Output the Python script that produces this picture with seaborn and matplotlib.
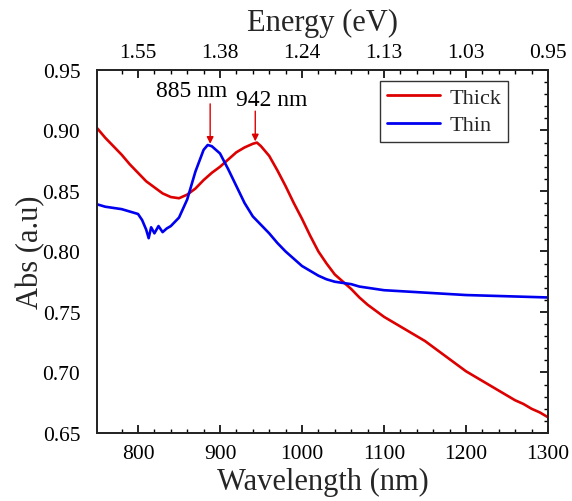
import matplotlib
matplotlib.use("Agg")
import matplotlib.pyplot as plt
import seaborn as sns
import pandas as pd
from matplotlib.ticker import FixedLocator, FormatStrFormatter, MultipleLocator

# ---- data ----
wl_thick = [750, 760, 770, 780, 790, 800, 810, 820, 830, 840, 850, 860, 870, 880, 890,
            900, 910, 920, 930, 940, 945, 950, 960, 970, 980, 990, 1000, 1010, 1020, 1030,
            1040, 1050, 1060, 1070, 1080, 1090, 1100, 1110, 1120, 1130, 1140, 1150, 1160,
            1170, 1180, 1190, 1200, 1210, 1220, 1230, 1240, 1250, 1260, 1270, 1280, 1290, 1300]
abs_thick = [0.902, 0.894, 0.887, 0.880, 0.872, 0.865, 0.858, 0.853, 0.848, 0.845, 0.844, 0.847,
             0.852, 0.859, 0.865, 0.870, 0.876, 0.882, 0.886, 0.889, 0.890, 0.887, 0.879, 0.867,
             0.854, 0.840, 0.827, 0.813, 0.800, 0.790, 0.781, 0.775, 0.769, 0.762, 0.756, 0.751,
             0.746, 0.742, 0.738, 0.734, 0.730, 0.726, 0.721, 0.716, 0.711, 0.706, 0.701, 0.697,
             0.693, 0.689, 0.685, 0.681, 0.677, 0.674, 0.670, 0.667, 0.663]

wl_thin = [750, 760, 770, 780, 790, 800, 805, 810, 813, 816, 820, 825, 830, 835, 840, 850,
           860, 870, 880, 885, 890, 900, 910, 920, 930, 940, 950, 960, 970, 980, 990, 1000,
           1010, 1020, 1030, 1040, 1050, 1060, 1070, 1080, 1090, 1100, 1150, 1200, 1250, 1300]
abs_thin = [0.839, 0.837, 0.836, 0.835, 0.833, 0.831, 0.826, 0.818, 0.811, 0.820, 0.815, 0.821,
            0.816, 0.819, 0.821, 0.828, 0.843, 0.866, 0.884, 0.888, 0.887, 0.881, 0.868, 0.854,
            0.840, 0.829, 0.822, 0.815, 0.807, 0.800, 0.794, 0.788, 0.784, 0.780, 0.777, 0.775,
            0.774, 0.773, 0.771, 0.770, 0.769, 0.768, 0.766, 0.764, 0.763, 0.762]

series_names = ["Thick", "Thin"]
x_ticks = [800, 900, 1000, 1100, 1200, 1300]
y_ticks = [0.65, 0.70, 0.75, 0.80, 0.85, 0.90, 0.95]
energy_labels = ["1.55", "1.38", "1.24", "1.13", "1.03", "0.95"]
peak_labels = ["885 nm", "942 nm"]
peak_wl = [888, 943]
peak_abs = [0.889, 0.891]

df = pd.concat([
    pd.DataFrame({"Wavelength": wl_thick, "Abs": abs_thick, "Sample": series_names[0]}),
    pd.DataFrame({"Wavelength": wl_thin, "Abs": abs_thin, "Sample": series_names[1]}),
])

sns.set_theme(style="white")
plt.rcParams["font.family"] = ["Liberation Serif", "DejaVu Serif"]

fig = plt.figure(figsize=(5.72, 5.02), dpi=100)
ax = fig.add_axes([0.1696, 0.1355, 0.7884, 0.7231])

sns.lineplot(data=df, x="Wavelength", y="Abs", hue="Sample", sort=False,
             palette={"Thick": "#DD0000", "Thin": "#0000F0"}, linewidth=1.9, ax=ax)

ax.set_xlim(750, 1300)
ax.set_ylim(0.65, 0.95)
ax.xaxis.set_major_locator(FixedLocator(x_ticks))
ax.xaxis.set_minor_locator(FixedLocator(list(range(780, 1300, 20))))
ax.yaxis.set_major_locator(FixedLocator(y_ticks))
ax.yaxis.set_minor_locator(MultipleLocator(0.01))
ax.yaxis.set_major_formatter(FormatStrFormatter("%.2f"))
ax.tick_params(which="both", direction="in", top=False, right=True, labelsize=15.5, colors="black")
ax.tick_params(which="major", length=6, width=1.2)
ax.tick_params(which="minor", length=3, width=1.0)
ax.tick_params(axis="x", which="major", pad=8)
ax.tick_params(axis="y", which="major", pad=12)
ax.set_xlabel("Wavelength (nm)", fontsize=22, labelpad=3)
ax.set_ylabel("Abs (a.u)", fontsize=22, labelpad=-2)
for s in ax.spines.values():
    s.set_color("black")
    s.set_linewidth(1.2)

# top energy axis
ax2 = ax.twiny()
ax2.set_xlim(ax.get_xlim())
ax2.xaxis.set_major_locator(FixedLocator(x_ticks))
ax2.set_xticklabels(energy_labels)
ax2.xaxis.set_minor_locator(FixedLocator(list(range(780, 1300, 20))))
ax2.tick_params(which="both", direction="in", labelsize=15.5, colors="black")
ax2.tick_params(which="major", length=6, width=1.2, pad=6)
ax2.tick_params(which="minor", length=3, width=1.0)
ax2.set_xlabel("Energy (eV)", fontsize=22, labelpad=9)

# peak annotations
ax.text(865, 0.924, peak_labels[0], ha="center", va="bottom", fontsize=17, color="black")
ax.text(963, 0.917, peak_labels[1], ha="center", va="bottom", fontsize=17, color="black")
arrow_starts = [0.922, 0.916]
for xw, ya, y0 in zip(peak_wl, peak_abs, arrow_starts):
    ax.annotate("", xy=(xw, ya), xytext=(xw, y0),
                arrowprops=dict(arrowstyle="-|>", color="#DD0000", lw=1.0, mutation_scale=10,
                                shrinkA=0, shrinkB=0))

leg = ax.legend(loc="upper right", bbox_to_anchor=(0.911, 0.970), fontsize=16, frameon=True,
                fancybox=False, edgecolor="black", handlelength=2.4, borderpad=0.3,
                labelspacing=0.3, handletextpad=0.4, borderaxespad=0, title=None)
leg.get_frame().set_linewidth(1.0)
for line in leg.get_lines():
    line.set_linewidth(2.0)

fig.savefig("out.png", dpi=100)
